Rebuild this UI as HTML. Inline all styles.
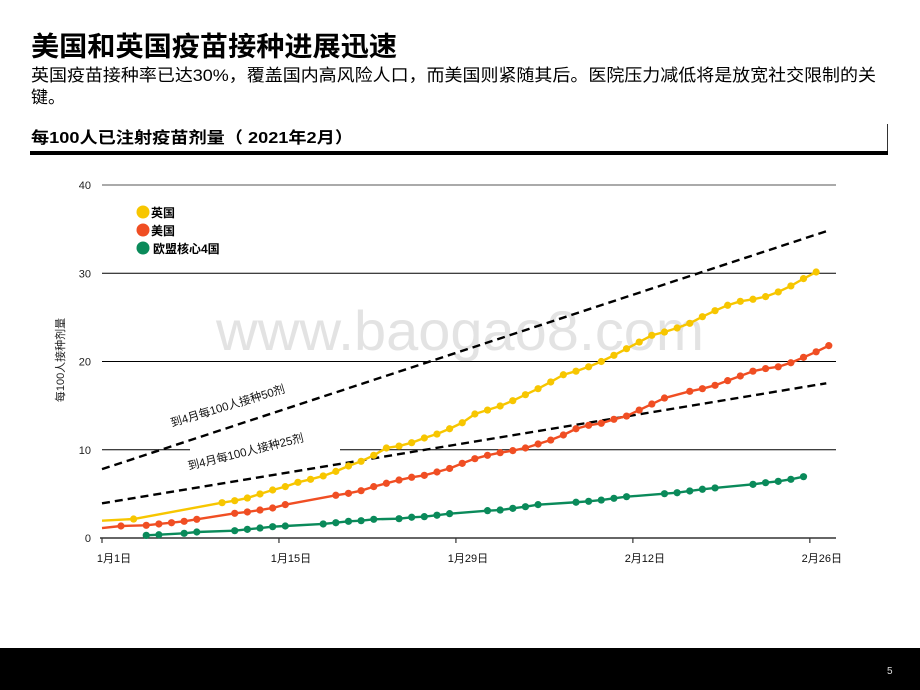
<!DOCTYPE html>
<html><head><meta charset="utf-8">
<style>
html,body{margin:0;padding:0;background:#fff;}
body{width:920px;height:690px;overflow:hidden;position:relative;font-family:"Liberation Sans","Noto Sans CJK SC",sans-serif;}
</style></head>
<body>
<svg id="chart" width="920" height="690" viewBox="0 0 920 690" xmlns="http://www.w3.org/2000/svg" style="position:absolute;left:0;top:0;font-family:'Liberation Sans','Noto Sans CJK SC',sans-serif;">
  <text x="31" y="56" font-size="27" font-weight="bold" fill="#000" textLength="366" lengthAdjust="spacingAndGlyphs">美国和英国疫苗接种进展迅速</text>
  <text x="31" y="81" font-size="17" fill="#000" textLength="845" lengthAdjust="spacingAndGlyphs">英国疫苗接种率已达30%，覆盖国内高风险人口，而美国则紧随其后。医院压力减低将是放宽社交限制的关</text>
  <text x="31" y="103" font-size="17" fill="#000">键。</text>
  <text x="31" y="143" font-size="16" font-weight="bold" fill="#000" textLength="322" lengthAdjust="spacingAndGlyphs">每100人已注射疫苗剂量（ 2021年2月）</text>
  <line x1="887.5" y1="124" x2="887.5" y2="153" stroke="#333" stroke-width="1"/>
  <rect x="30" y="151" width="858" height="4" fill="#000"/>
  <text x="460" y="350" font-size="56" fill="#e3e3e3" text-anchor="middle" textLength="488" lengthAdjust="spacingAndGlyphs">www.baogao8.com</text>
  <g id="grid"></g>
  <g id="marks"></g>
  <g id="legend">
    <circle cx="143" cy="212" r="6.5" fill="#f7c600"/>
    <text x="151" y="217" font-size="12" font-weight="bold">英国</text>
    <circle cx="143" cy="230" r="6.5" fill="#f04e23"/>
    <text x="151" y="235" font-size="12" font-weight="bold">美国</text>
    <circle cx="143" cy="248" r="6.5" fill="#0a8a5a"/>
    <text x="153" y="253" font-size="12" font-weight="bold">欧盟核心4国</text>
  </g>
  <text transform="translate(64,360) rotate(-90)" font-size="11" text-anchor="middle" fill="#222">每100人接种剂量</text>
  <rect x="0" y="648" width="920" height="42" fill="#000"/>
  <text x="887" y="674" font-size="10" fill="#ddd">5</text>
</svg>
<script>
const yTicks = [0, 10, 20, 30, 40];
const xTickDays = [0, 14, 28, 42, 56];
const xTickLabels = ["1月1日", "1月15日", "1月29日", "2月12日", "2月26日"];
const ukDays = [-0.5, 2, 9, 10, 11, 12, 13, 14, 15, 16, 17, 18, 19, 20, 21, 22, 23, 24, 25, 26, 27, 28, 29, 30, 31, 32, 33, 34, 35, 36, 37, 38, 39, 40, 41, 42, 43, 44, 45, 46, 47, 48, 49, 50, 51, 52, 53, 54, 55, 56];
const ukValues = [1.96, 2.15, 4.0, 4.23, 4.53, 4.99, 5.44, 5.82, 6.31, 6.65, 7.03, 7.55, 8.16, 8.69, 9.37, 10.2, 10.42, 10.8, 11.33, 11.78, 12.38, 13.06, 14.05, 14.5, 14.96, 15.56, 16.24, 16.92, 17.68, 18.5, 18.9, 19.4, 20.0, 20.7, 21.45, 22.2, 22.97, 23.34, 23.8, 24.33, 25.08, 25.76, 26.37, 26.82, 27.05, 27.35, 27.88, 28.56, 29.39, 30.14];
const usDays = [-0.5, 1, 3, 4, 5, 6, 7, 10, 11, 12, 13, 14, 18, 19, 20, 21, 22, 23, 24, 25, 26, 27, 28, 29, 30, 31, 32, 33, 34, 35, 36, 37, 38, 39, 40, 41, 42, 43, 44, 46, 47, 48, 49, 50, 51, 52, 53, 54, 55, 56, 57];
const usValues = [1.13, 1.36, 1.44, 1.59, 1.73, 1.89, 2.12, 2.8, 2.95, 3.17, 3.4, 3.78, 4.84, 5.06, 5.36, 5.82, 6.2, 6.57, 6.88, 7.1, 7.48, 7.88, 8.46, 8.99, 9.37, 9.67, 9.9, 10.2, 10.65, 11.1, 11.67, 12.38, 12.77, 13.0, 13.45, 13.82, 14.5, 15.18, 15.86, 16.62, 16.92, 17.3, 17.83, 18.36, 18.9, 19.2, 19.4, 19.86, 20.47, 21.1, 21.8];
const euDays = [3, 4, 6, 7, 10, 11, 12, 13, 14, 17, 18, 19, 20, 21, 23, 24, 25, 26, 27, 30, 31, 32, 33, 34, 37, 38, 39, 40, 41, 44, 45, 46, 47, 48, 51, 52, 53, 54, 55];
const euValues = [0.3, 0.37, 0.53, 0.68, 0.83, 0.98, 1.13, 1.28, 1.36, 1.59, 1.73, 1.89, 1.96, 2.12, 2.19, 2.35, 2.42, 2.58, 2.76, 3.1, 3.17, 3.36, 3.55, 3.78, 4.05, 4.16, 4.3, 4.5, 4.68, 5.02, 5.13, 5.33, 5.52, 5.67, 6.08, 6.27, 6.42, 6.65, 6.95];
const target50Days = [-0.5, 57.1];
const target50Values = [7.8, 34.9];
const target25Days = [-0.5, 56.8];
const target25Values = [3.93, 17.53];

const NS = "http://www.w3.org/2000/svg";
const X0 = 102, XSTEP = 12.64, Y0 = 538, YUNIT = 8.825;
function xScale(d) { return X0 + (d + 0.5) * XSTEP; }
function xTick(d) { return X0 + d * XSTEP; }
function yScale(v) { return Y0 - v * YUNIT; }
function mk(tag, attrs, parent) {
  const e = document.createElementNS(NS, tag);
  for (const k in attrs) e.setAttribute(k, attrs[k]);
  parent.appendChild(e);
  return e;
}
const grid = document.getElementById("grid");
const marks = document.getElementById("marks");

yTicks.forEach(function (t) {
  const y = yScale(t);
  if (t > 0) {
    const gl = mk("line", {x1: 102, x2: 836, y1: y, y2: y, stroke: t === 40 ? "#777" : "#000", "stroke-width": t === 40 ? 1.3 : 0.9}, grid);
    
    
  }
  const lb = mk("text", {x: 91, y: y + 4, "font-size": 11, "text-anchor": "end", fill: "#222"}, grid);
  lb.textContent = t;
  
  
});
const axis = mk("line", {x1: 100, x2: 836, y1: Y0, y2: Y0, stroke: "#333", "stroke-width": 1.5}, grid);


xTickDays.forEach(function (d, i) {
  const x = xTick(d);
  const tk = mk("line", {x1: x, x2: x, y1: Y0, y2: Y0 + 5, stroke: "#333", "stroke-width": 1.2}, grid);
  
  
  const lb = mk("text", {x: x + 12, y: Y0 + 24, "font-size": 11, "text-anchor": "middle", fill: "#111"}, grid);
  lb.textContent = xTickLabels[i];
  
  
});

function dashLine(days, vals, name) {
  const l = mk("line", {x1: xScale(days[0]), y1: yScale(vals[0]), x2: xScale(days[1]), y2: yScale(vals[1]), stroke: "#000", "stroke-width": 2.4, "stroke-dasharray": "8,5"}, marks);
  
  
}
function series(days, vals, color, name, skipFirstMarker) {
  const pts = days.map(function (d, i) { return xScale(d) + "," + yScale(vals[i]); }).join(" ");
  const pl = mk("polyline", {points: pts, fill: "none", stroke: color, "stroke-width": 2.4, "stroke-linejoin": "round"}, marks);
  
  
  days.forEach(function (d, i) {
    if (skipFirstMarker && i === 0) return;
    const c = mk("circle", {cx: xScale(d), cy: yScale(vals[i]), r: 3.6, fill: color}, marks);
    
    
  });
}
const bg = mk("rect", {x: 190, y: 444, width: 150, height: 10, fill: "#fff"}, marks);



dashLine(target50Days, target50Values, "target-50-line");
dashLine(target25Days, target25Values, "target-25-line");
series(euDays, euValues, "#0a8a5a", "eu4", false);
series(usDays, usValues, "#f04e23", "us", true);
series(ukDays, ukValues, "#f7c600", "uk", true);

const l50 = mk("text", {transform: "translate(172,427) rotate(-17)", "font-size": 11.5, fill: "#111"}, marks);
l50.textContent = "到4月每100人接种50剂";


const l25 = mk("text", {transform: "translate(189,470) rotate(-14)", "font-size": 11.5, fill: "#111"}, marks);
l25.textContent = "到4月每100人接种25剂";


</script>
</body></html>
